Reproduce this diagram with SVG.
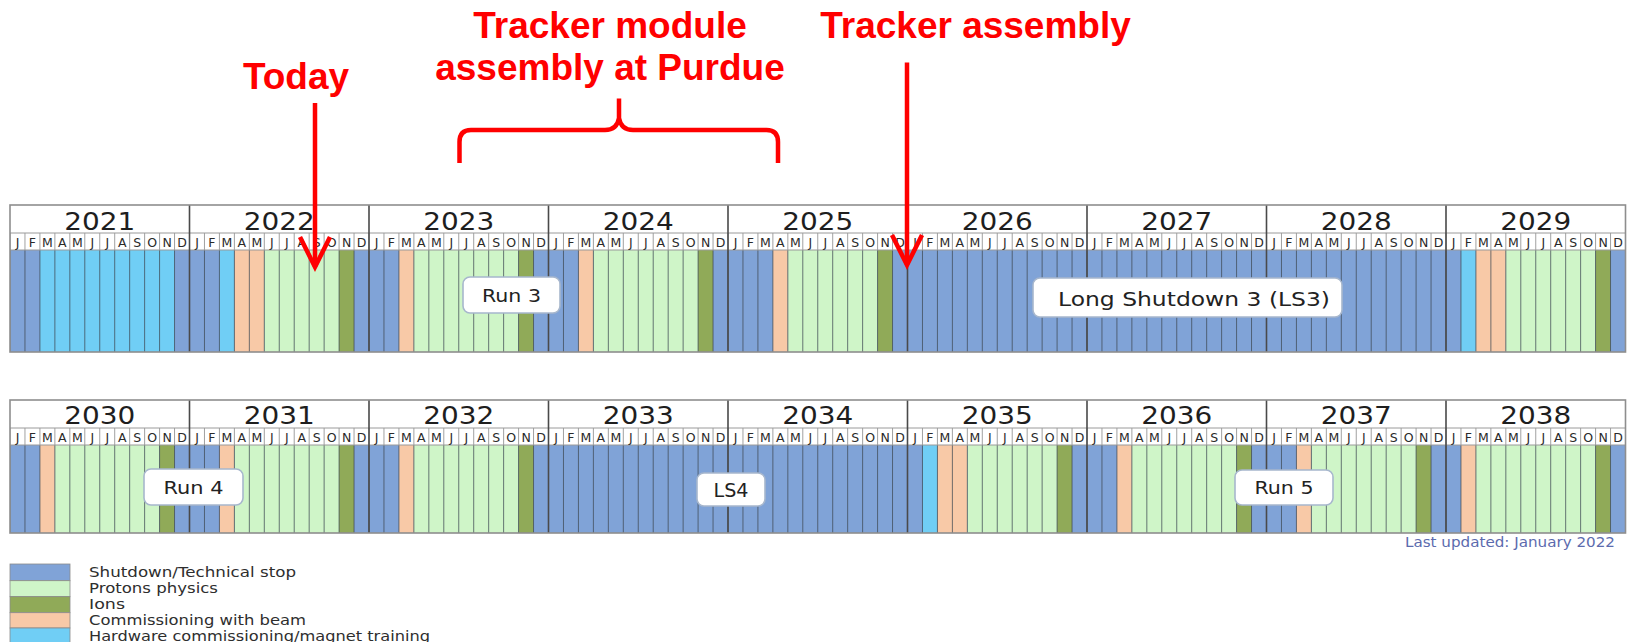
<svg xmlns="http://www.w3.org/2000/svg" width="1634" height="642" viewBox="0 0 1634 642">
<style>
.S{fill:#80a3d7}.P{fill:#cff5c8}.I{fill:#90aa58}.C{fill:#f8c9a7}.H{fill:#70cef5}
.yr{stroke:#4a4a4a;stroke-width:1.6;fill:none}
.hl{stroke:#9a9a9a;stroke-width:1;fill:none}
.frame{fill:none;stroke:#8e8e8e;stroke-width:1.6}
.year{font-family:"DejaVu Sans",Verdana,sans-serif;font-size:25px;fill:#1e1e1e;text-anchor:middle}
.mon{font-family:"DejaVu Sans",Verdana,sans-serif;font-size:12.5px;fill:#2a2a2a;text-anchor:middle}
.box rect{fill:#fff;stroke:#a7b7cd;stroke-width:1.6}
.box text{font-family:"DejaVu Sans",Verdana,sans-serif;font-size:18px;fill:#222;text-anchor:middle}
.red{font-family:"Liberation Sans",Arial,sans-serif;font-weight:bold;font-size:37px;fill:#ff0000;text-anchor:middle}
.arrow{stroke:#ff0000;stroke-width:4.5;fill:none}
.leg text{font-family:"DejaVu Sans",Verdana,sans-serif;font-size:13.5px;fill:#2e2e2e}
.leg rect{stroke:#8a8a8a;stroke-width:0.8}
</style>
<defs>
<pattern id="gridC" patternUnits="userSpaceOnUse" x="9.5" y="0" width="14.958333" height="642"><rect width="1" height="642" fill="#3d4853" fill-opacity="0.75"/></pattern>
<pattern id="gridL" patternUnits="userSpaceOnUse" x="9.5" y="0" width="14.958333" height="642"><rect width="1" height="642" fill="#a0a0a0"/></pattern>
<marker id="chev" markerUnits="userSpaceOnUse" viewBox="-36 -20 44 40" markerWidth="44" markerHeight="40" refX="0" refY="0" orient="auto"><path d="M-30,-15 L0,0 L-30,15" fill="none" stroke="#ff0000" stroke-width="4.5"/></marker>
</defs>
<rect width="1634" height="642" fill="#fff"/>

<g id="row1">
<rect x="10" y="205" width="1615.5" height="45" fill="#fff"/>
<rect class="S" x="10" y="250" width="1615.5" height="102"/>
<rect class="H" x="39.92" y="250" width="134.62" height="102"/>
<rect class="H" x="219.42" y="250" width="14.96" height="102"/>
<rect class="C" x="234.38" y="250" width="29.92" height="102"/>
<rect class="P" x="264.29" y="250" width="74.79" height="102"/>
<rect class="I" x="339.08" y="250" width="14.96" height="102"/>
<rect class="C" x="398.92" y="250" width="14.96" height="102"/>
<rect class="P" x="413.88" y="250" width="104.71" height="102"/>
<rect class="I" x="518.58" y="250" width="14.96" height="102"/>
<rect class="C" x="578.42" y="250" width="14.96" height="102"/>
<rect class="P" x="593.38" y="250" width="104.71" height="102"/>
<rect class="I" x="698.08" y="250" width="14.96" height="102"/>
<rect class="C" x="772.88" y="250" width="14.96" height="102"/>
<rect class="P" x="787.83" y="250" width="89.75" height="102"/>
<rect class="I" x="877.58" y="250" width="14.96" height="102"/>
<rect class="H" x="1460.96" y="250" width="14.96" height="102"/>
<rect class="C" x="1475.92" y="250" width="29.92" height="102"/>
<rect class="P" x="1505.83" y="250" width="89.75" height="102"/>
<rect class="I" x="1595.58" y="250" width="14.96" height="102"/>
<rect x="10" y="233" width="1615.5" height="17" fill="url(#gridL)"/>
<rect x="10" y="250" width="1615.5" height="102" fill="url(#gridC)"/>
<path class="hl" d="M10,233H1625.5M10,250H1625.5"/>
<path class="yr" d="M189.5,205V352M369,205V352M548.5,205V352M728,205V352M907.5,205V352M1087,205V352M1266.5,205V352M1446,205V352"/>
<rect class="frame" x="10" y="205" width="1615.5" height="147"/>
<text class="year" x="99.75" y="229.5" textLength="71" lengthAdjust="spacingAndGlyphs">2021</text>
<text class="year" x="279.25" y="229.5" textLength="71" lengthAdjust="spacingAndGlyphs">2022</text>
<text class="year" x="458.75" y="229.5" textLength="71" lengthAdjust="spacingAndGlyphs">2023</text>
<text class="year" x="638.25" y="229.5" textLength="71" lengthAdjust="spacingAndGlyphs">2024</text>
<text class="year" x="817.75" y="229.5" textLength="71" lengthAdjust="spacingAndGlyphs">2025</text>
<text class="year" x="997.25" y="229.5" textLength="71" lengthAdjust="spacingAndGlyphs">2026</text>
<text class="year" x="1176.75" y="229.5" textLength="71" lengthAdjust="spacingAndGlyphs">2027</text>
<text class="year" x="1356.25" y="229.5" textLength="71" lengthAdjust="spacingAndGlyphs">2028</text>
<text class="year" x="1535.75" y="229.5" textLength="71" lengthAdjust="spacingAndGlyphs">2029</text>
<text class="mon" transform="translate(10,246.5)" x="7.48 22.44 37.4 52.35 67.31 82.27 97.23 112.19 127.15 142.1 157.06 172.02">JFMAMJJASOND</text>
<text class="mon" transform="translate(189.5,246.5)" x="7.48 22.44 37.4 52.35 67.31 82.27 97.23 112.19 127.15 142.1 157.06 172.02">JFMAMJJASOND</text>
<text class="mon" transform="translate(369,246.5)" x="7.48 22.44 37.4 52.35 67.31 82.27 97.23 112.19 127.15 142.1 157.06 172.02">JFMAMJJASOND</text>
<text class="mon" transform="translate(548.5,246.5)" x="7.48 22.44 37.4 52.35 67.31 82.27 97.23 112.19 127.15 142.1 157.06 172.02">JFMAMJJASOND</text>
<text class="mon" transform="translate(728,246.5)" x="7.48 22.44 37.4 52.35 67.31 82.27 97.23 112.19 127.15 142.1 157.06 172.02">JFMAMJJASOND</text>
<text class="mon" transform="translate(907.5,246.5)" x="7.48 22.44 37.4 52.35 67.31 82.27 97.23 112.19 127.15 142.1 157.06 172.02">JFMAMJJASOND</text>
<text class="mon" transform="translate(1087,246.5)" x="7.48 22.44 37.4 52.35 67.31 82.27 97.23 112.19 127.15 142.1 157.06 172.02">JFMAMJJASOND</text>
<text class="mon" transform="translate(1266.5,246.5)" x="7.48 22.44 37.4 52.35 67.31 82.27 97.23 112.19 127.15 142.1 157.06 172.02">JFMAMJJASOND</text>
<text class="mon" transform="translate(1446,246.5)" x="7.48 22.44 37.4 52.35 67.31 82.27 97.23 112.19 127.15 142.1 157.06 172.02">JFMAMJJASOND</text>
</g>

<g id="row2">
<rect x="10" y="400" width="1615.5" height="45" fill="#fff"/>
<rect class="S" x="10" y="445" width="1615.5" height="88"/>
<rect class="C" x="39.92" y="445" width="14.96" height="88"/>
<rect class="P" x="54.88" y="445" width="104.71" height="88"/>
<rect class="I" x="159.58" y="445" width="14.96" height="88"/>
<rect class="C" x="219.42" y="445" width="14.96" height="88"/>
<rect class="P" x="234.38" y="445" width="104.71" height="88"/>
<rect class="I" x="339.08" y="445" width="14.96" height="88"/>
<rect class="C" x="398.92" y="445" width="14.96" height="88"/>
<rect class="P" x="413.88" y="445" width="104.71" height="88"/>
<rect class="I" x="518.58" y="445" width="14.96" height="88"/>
<rect class="H" x="922.46" y="445" width="14.96" height="88"/>
<rect class="C" x="937.42" y="445" width="29.92" height="88"/>
<rect class="P" x="967.33" y="445" width="89.75" height="88"/>
<rect class="I" x="1057.08" y="445" width="14.96" height="88"/>
<rect class="C" x="1116.92" y="445" width="14.96" height="88"/>
<rect class="P" x="1131.88" y="445" width="104.71" height="88"/>
<rect class="I" x="1236.58" y="445" width="14.96" height="88"/>
<rect class="C" x="1296.42" y="445" width="14.96" height="88"/>
<rect class="P" x="1311.38" y="445" width="104.71" height="88"/>
<rect class="I" x="1416.08" y="445" width="14.96" height="88"/>
<rect class="C" x="1460.96" y="445" width="14.96" height="88"/>
<rect class="P" x="1475.92" y="445" width="119.67" height="88"/>
<rect class="I" x="1595.58" y="445" width="14.96" height="88"/>
<rect x="10" y="428" width="1615.5" height="17" fill="url(#gridL)"/>
<rect x="10" y="445" width="1615.5" height="88" fill="url(#gridC)"/>
<path class="hl" d="M10,428H1625.5M10,445H1625.5"/>
<path class="yr" d="M189.5,400V533M369,400V533M548.5,400V533M728,400V533M907.5,400V533M1087,400V533M1266.5,400V533M1446,400V533"/>
<rect class="frame" x="10" y="400" width="1615.5" height="133"/>
<text class="year" x="99.75" y="424" textLength="71" lengthAdjust="spacingAndGlyphs">2030</text>
<text class="year" x="279.25" y="424" textLength="71" lengthAdjust="spacingAndGlyphs">2031</text>
<text class="year" x="458.75" y="424" textLength="71" lengthAdjust="spacingAndGlyphs">2032</text>
<text class="year" x="638.25" y="424" textLength="71" lengthAdjust="spacingAndGlyphs">2033</text>
<text class="year" x="817.75" y="424" textLength="71" lengthAdjust="spacingAndGlyphs">2034</text>
<text class="year" x="997.25" y="424" textLength="71" lengthAdjust="spacingAndGlyphs">2035</text>
<text class="year" x="1176.75" y="424" textLength="71" lengthAdjust="spacingAndGlyphs">2036</text>
<text class="year" x="1356.25" y="424" textLength="71" lengthAdjust="spacingAndGlyphs">2037</text>
<text class="year" x="1535.75" y="424" textLength="71" lengthAdjust="spacingAndGlyphs">2038</text>
<text class="mon" transform="translate(10,442)" x="7.48 22.44 37.4 52.35 67.31 82.27 97.23 112.19 127.15 142.1 157.06 172.02">JFMAMJJASOND</text>
<text class="mon" transform="translate(189.5,442)" x="7.48 22.44 37.4 52.35 67.31 82.27 97.23 112.19 127.15 142.1 157.06 172.02">JFMAMJJASOND</text>
<text class="mon" transform="translate(369,442)" x="7.48 22.44 37.4 52.35 67.31 82.27 97.23 112.19 127.15 142.1 157.06 172.02">JFMAMJJASOND</text>
<text class="mon" transform="translate(548.5,442)" x="7.48 22.44 37.4 52.35 67.31 82.27 97.23 112.19 127.15 142.1 157.06 172.02">JFMAMJJASOND</text>
<text class="mon" transform="translate(728,442)" x="7.48 22.44 37.4 52.35 67.31 82.27 97.23 112.19 127.15 142.1 157.06 172.02">JFMAMJJASOND</text>
<text class="mon" transform="translate(907.5,442)" x="7.48 22.44 37.4 52.35 67.31 82.27 97.23 112.19 127.15 142.1 157.06 172.02">JFMAMJJASOND</text>
<text class="mon" transform="translate(1087,442)" x="7.48 22.44 37.4 52.35 67.31 82.27 97.23 112.19 127.15 142.1 157.06 172.02">JFMAMJJASOND</text>
<text class="mon" transform="translate(1266.5,442)" x="7.48 22.44 37.4 52.35 67.31 82.27 97.23 112.19 127.15 142.1 157.06 172.02">JFMAMJJASOND</text>
<text class="mon" transform="translate(1446,442)" x="7.48 22.44 37.4 52.35 67.31 82.27 97.23 112.19 127.15 142.1 157.06 172.02">JFMAMJJASOND</text>
</g>

<g id="label-run3" class="box"><rect x="463" y="277" width="97" height="36" rx="7"/><text x="511.5" y="302" textLength="59" lengthAdjust="spacingAndGlyphs">Run 3</text></g>
<g id="label-ls3" class="box"><rect x="1033" y="278" width="309" height="39" rx="7"/><text x="1194" y="306" textLength="272" lengthAdjust="spacingAndGlyphs" style="font-size:19.5px">Long Shutdown 3 (LS3)</text></g>
<g id="label-run4" class="box"><rect x="144" y="469" width="99" height="36" rx="7"/><text x="193.5" y="494" textLength="60" lengthAdjust="spacingAndGlyphs">Run 4</text></g>
<g id="label-ls4" class="box"><rect x="697" y="473" width="68" height="33" rx="7"/><text x="731" y="496.5" textLength="35" lengthAdjust="spacingAndGlyphs" style="font-size:19px">LS4</text></g>
<g id="label-run5" class="box"><rect x="1235" y="470" width="98" height="35" rx="7"/><text x="1284" y="494" textLength="59" lengthAdjust="spacingAndGlyphs">Run 5</text></g>

<g id="updated"><text x="1405" y="546.5" textLength="210" lengthAdjust="spacingAndGlyphs" style="font-family:'DejaVu Sans',Verdana,sans-serif;font-size:13.5px;fill:#5c6bae">Last updated: January 2022</text></g>

<g id="annot-today"><text class="red" x="296" y="89">Today</text></g>
<g id="annot-module"><text class="red" x="610" y="37.5">Tracker module</text><text class="red" x="610" y="80">assembly at Purdue</text></g>
<g id="annot-tracker"><text class="red" x="975.5" y="37.5">Tracker assembly</text></g>

<g id="connectors">
<path class="arrow" d="M315,103V267" marker-end="url(#chev)"/>
<path class="arrow" d="M907,62.5V265" marker-end="url(#chev)"/>
<path class="arrow" d="M459.5,163V142Q459.5,130 471,130H605Q617,130 619,118V98.5M619,118Q621,130 633,130H766.5Q778,130 778,142V163" stroke-width="5" stroke-linejoin="round"/>
</g>

<g id="legend" class="leg">
<rect class="S" x="10" y="564" width="60" height="16.7"/>
<rect class="P" x="10" y="580.7" width="60" height="16"/>
<rect class="I" x="10" y="596.7" width="60" height="16"/>
<rect class="C" x="10" y="612.7" width="60" height="15.3"/>
<rect class="H" x="10" y="628" width="60" height="16"/>
<text x="89" y="577" textLength="207" lengthAdjust="spacingAndGlyphs">Shutdown/Technical stop</text>
<text x="89" y="593" textLength="129" lengthAdjust="spacingAndGlyphs">Protons physics</text>
<text x="89" y="609" textLength="36" lengthAdjust="spacingAndGlyphs">Ions</text>
<text x="89" y="625" textLength="217" lengthAdjust="spacingAndGlyphs">Commissioning with beam</text>
<text x="89" y="641" textLength="341" lengthAdjust="spacingAndGlyphs">Hardware commissioning/magnet training</text>
</g>
</svg>
